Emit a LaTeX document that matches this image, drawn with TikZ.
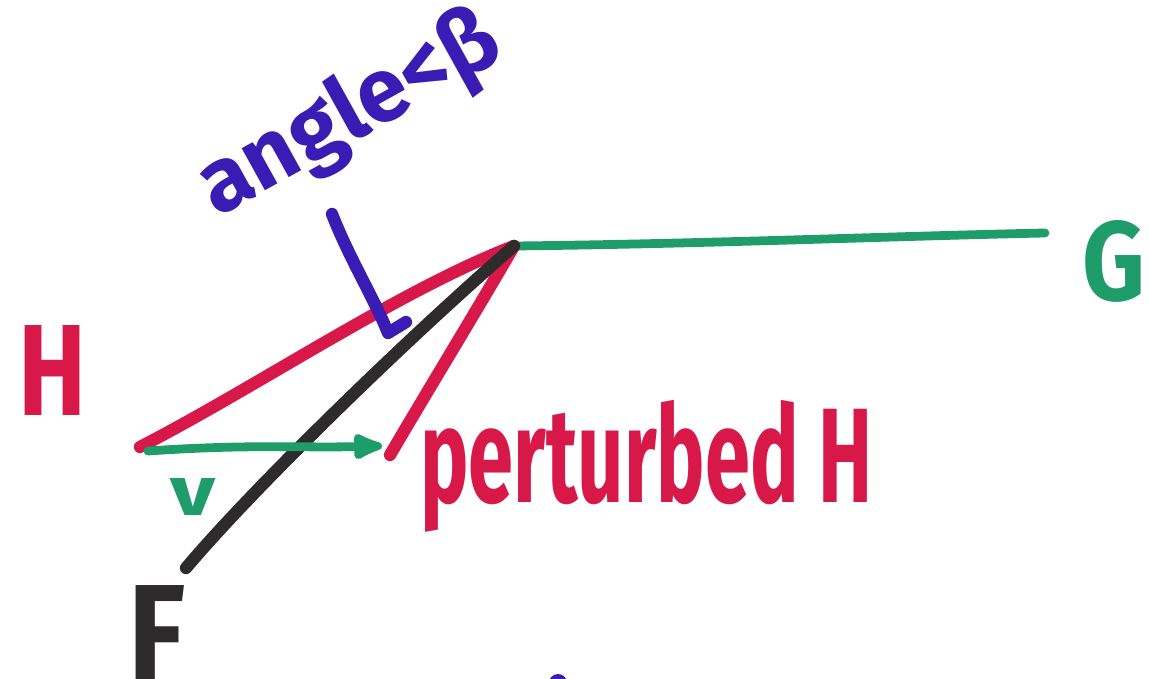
\documentclass[tikz,border=0pt]{standalone}
\usepackage{fontspec}
\usepackage{graphicx}
\newfontfamily\hand{Fira Sans}
\usetikzlibrary{arrows.meta}
\definecolor{mkred}{HTML}{D81848}
\definecolor{mkgreen}{HTML}{1E9C6A}
\definecolor{mkblack}{HTML}{2E2B2C}
\definecolor{mkblue}{HTML}{3A1CB4}
\tikzset{
  marker/.style={line width=7pt, line cap=round, line join=round},
  thinmarker/.style={line width=5pt, line cap=round, line join=round},
  lbl/.style={inner sep=0pt, font=\hand\bfseries}
}
\begin{document}
\begin{tikzpicture}[x=0.02cm, y=-0.02cm]
\useasboundingbox (0,0) rectangle (1150,679);
\fill[white] (0,0) rectangle (1150,679);

% end points of the three lines and the perturbation
\coordinate (O) at (514,246);
\coordinate (Gend) at (1045,233);
\coordinate (Hend) at (140,447);
\coordinate (Fend) at (186,568);
\coordinate (Pend) at (390,455);
\coordinate (vstart) at (148,451);
\coordinate (vend) at (382,446);
\coordinate (tailA) at (332,214);
\coordinate (tipA) at (388,333);

% G : green line
\draw[mkgreen, thinmarker] (O) .. controls (700,244) and (900,236) .. (Gend);
% H : red line
\draw[mkred, marker] (Hend) .. controls (260,385) and (400,290) .. (O);
% perturbed H
\draw[mkred, marker] (Pend) .. controls (425,395) and (480,305) .. (O);
% F : black line
\draw[mkblack, marker] (Fend) .. controls (250,492) and (400,345) .. (O);
% v : perturbation vector
\draw[mkgreen, thinmarker, -{Latex[round,length=22pt,width=18pt]}]
  (vstart) .. controls (250,444) and (300,448) .. (vend);

% arrow pointing at the angle
\draw[mkblue, marker] (tailA) .. controls (350,260) and (375,300) .. (tipA) -- (406,322);

% labels
\node[lbl, anchor=north west, text=mkred] (Hlab) at (18,325) {\resizebox{1.36cm}{1.8cm}{H}};
\node[lbl, anchor=north west, text=mkblack] (Flab) at (128,585) {\resizebox{1.14cm}{1.9cm}{F}};
\node[lbl, anchor=north west, text=mkgreen] (Glab) at (1082,220) {\resizebox{1.26cm}{1.6cm}{G}};
\node[lbl, anchor=north west, text=mkgreen] (vlab) at (170,478) {\resizebox{0.9cm}{0.74cm}{v}};
\node[lbl, anchor=north west, text=mkred] (Plab) at (420,400) {\resizebox*{9.04cm}{2.64cm}{perturbed H}};
\node[lbl, text=mkblue, rotate=29] (Alab) at (350,116) {\resizebox{6.6cm}{!}{angle<β}};

% stray blue stroke at the lower edge
\fill[mkblue] (558,683) circle (9);
\end{tikzpicture}
\end{document}
